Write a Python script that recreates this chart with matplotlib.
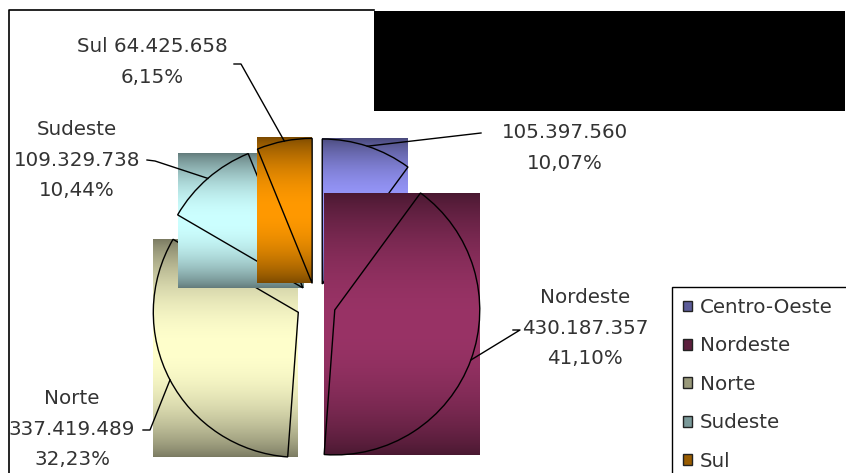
import numpy as np
import matplotlib
matplotlib.use("Agg")
import matplotlib.pyplot as plt
from matplotlib.patches import Patch, Rectangle
from matplotlib.colors import to_rgb

# population by region
regions = ["Centro-Oeste", "Nordeste", "Norte", "Sudeste", "Sul"]
population = [105397560, 430187357, 337419489, 109329738, 64425658]
label_fmt = ["{v}\n{p}", "{n}\n{v}\n{p}", "{n}\n{v}\n{p}",
             "{n}\n{v}\n{p}", "{n} {v}\n{p}"]
base_colors = ["#9999ff", "#993366", "#ffffcc", "#ccffff", "#ff9900"]

W, H = 846, 473
plt.rcParams["font.family"] = ["DejaVu Sans"]
plt.rcParams["font.size"] = 14.3
TXT = "#333333"

fig = plt.figure(figsize=(W / 100, H / 100), dpi=100)
ax = fig.add_axes([0, 0, 1, 1])

total = sum(population)
# explode is in data units here (pixels)
wedges, _ = ax.pie(population, center=(316, H - 303), radius=145,
                   startangle=90, counterclock=False, explode=[20] * 5,
                   wedgeprops=dict(facecolor="none", edgecolor="black", lw=1))

# each slice gets a gradient box over its bounding rectangle (Excel glitch)
shade = 0.48 + 0.52 * np.sin(np.linspace(0, np.pi, 256)) ** 0.8
for i, (w, c) in enumerate(zip(wedges, base_colors)):
    bb = w.get_path().get_extents(w.get_patch_transform())
    rgb = np.array(to_rgb(c))
    img = shade[:, None, None] * rgb[None, None, :]
    ax.imshow(img, extent=(bb.x0, bb.x1, bb.y0, bb.y1), aspect="auto",
              zorder=2 * i + 1, interpolation="bilinear")
    w.set_zorder(2 * i + 2)

# data labels with leader lines (positions in pixels, y down)
label_xy = [(565, 148), (585, 328), (72, 429), (77, 160), (152, 62)]
stubs = [((481, 133), (481, 133)), ((513, 330), (520, 330)),
         ((143, 430), (150, 430)), ((147, 160), (155, 161)),
         ((234, 64), (241, 64))]
for w, n, v, fmt, (lx, ly), (s0, s1) in zip(wedges, regions, population,
                                             label_fmt, label_xy, stubs):
    vs = f"{v:,}".replace(",", ".")
    ps = f"{100 * v / total:.2f}%".replace(".", ",")
    ax.text(lx, H - ly, fmt.format(n=n, v=vs, p=ps), ha="center",
            va="center", color=TXT, linespacing=1.75, zorder=20)
    mid = np.deg2rad((w.theta1 + w.theta2) / 2)
    px = w.center[0] + w.r * np.cos(mid)
    py = w.center[1] + w.r * np.sin(mid)
    ax.plot([s0[0], s1[0], px], [H - s0[1], H - s1[1], py],
            color="black", lw=1, zorder=20)

# plot area border and black title block
ax.plot([9, 9, 374], [0, H - 10, H - 10], color="black", lw=1.2, zorder=0)
ax.add_patch(Rectangle((374, H - 111), 471, 100, facecolor="black",
                       edgecolor="none", zorder=0))

handles = [Patch(facecolor=np.array(to_rgb(c)) * 0.6, edgecolor="#222222",
                 lw=1) for c in base_colors]
# legend box runs off the right edge of the image, as in the original
leg = ax.legend(handles, regions, loc="upper left", mode="expand",
                bbox_to_anchor=(672 / W, 1 - 287 / H, 200 / W, 0),
                frameon=True, fancybox=False, framealpha=1,
                edgecolor="black", handlelength=0.45, handleheight=0.45,
                handletextpad=0.4, labelspacing=0.98, borderpad=0.55,
                borderaxespad=0)
leg.get_frame().set_linewidth(1)
for t in leg.get_texts():
    t.set_color(TXT)

ax.set_xlim(0, W)
ax.set_ylim(0, H)
ax.set_aspect("auto")
ax.axis("off")

fig.savefig("out.png", dpi=100)
